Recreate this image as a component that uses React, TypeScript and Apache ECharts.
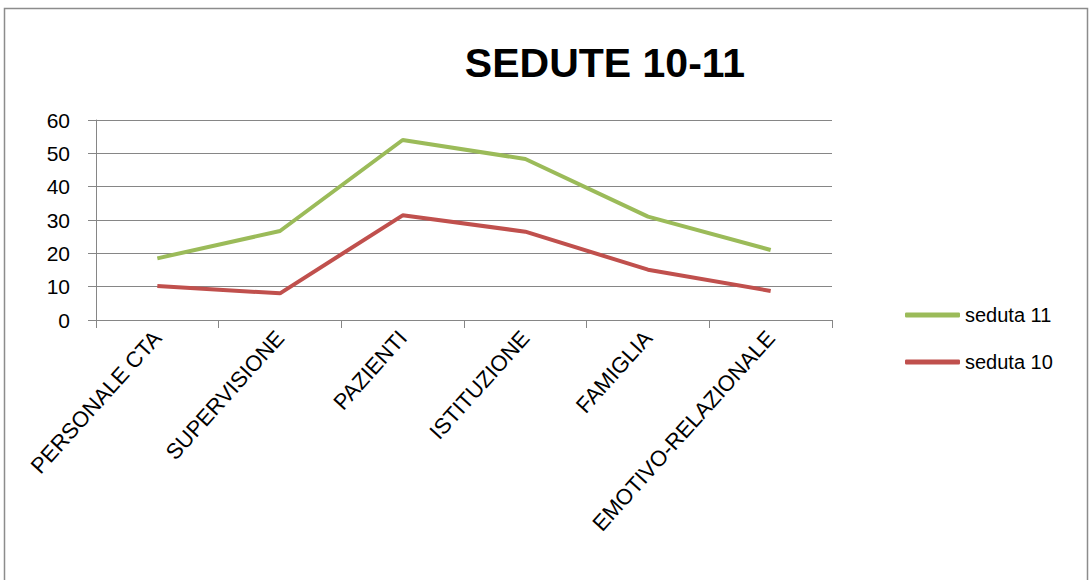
import React, { useEffect, useRef } from "react";
import * as echarts from "echarts";

const categories = ["PERSONALE CTA", "SUPERVISIONE", "PAZIENTI", "ISTITUZIONE", "FAMIGLIA", "EMOTIVO-RELAZIONALE"];
const seduta11 = [18.5, 26.7, 54, 48.3, 31, 21];
const seduta10 = [10.2, 8, 31.4, 26.5, 15.1, 8.7];
const seriesNames = ["seduta 11", "seduta 10"];
const titleText = "SEDUTE 10-11";

export default function App() {
  const ref = useRef<HTMLDivElement>(null);
  useEffect(() => {
    const chart = echarts.init(ref.current!, null, { renderer: "svg" });
    const font = "Liberation Sans, Arial, sans-serif";
    chart.setOption({
      animation: false,
      backgroundColor: "#ffffff",
      title: {
        text: titleText,
        left: 600,
        top: 37,
        textAlign: "center",
        textStyle: { fontFamily: font, fontSize: 41, fontWeight: "bold", color: "#000" },
      },
      graphic: [
        {
          type: "rect",
          shape: { x: 4.5, y: 8.5, width: 1083, height: 600 },
          style: { fill: "none", stroke: "#8c8c8c", lineWidth: 1.5 },
          silent: true,
        },
      ],
      legend: {
        orient: "vertical",
        left: 900,
        top: 300,
        icon: "roundRect",
        itemWidth: 55,
        itemHeight: 5,
        itemGap: 27,
        textStyle: { fontFamily: font, fontSize: 20, color: "#000", padding: [0, 0, 0, 0] },
        data: seriesNames,
      },
      grid: { left: 96, right: 259, top: 120, bottom: 260, containLabel: false },
      xAxis: {
        type: "category",
        data: categories,
        boundaryGap: true,
        axisLine: { lineStyle: { color: "#868686", width: 1 } },
        axisTick: { show: true, length: 8, alignWithLabel: false, lineStyle: { color: "#868686" } },
        axisLabel: {
          rotate: 48,
          margin: 14,
          interval: 0,
          fontFamily: font,
          fontSize: 22,
          color: "#000",
        },
      },
      yAxis: {
        type: "value",
        min: 0,
        max: 60,
        interval: 10,
        axisLine: { show: true, lineStyle: { color: "#868686", width: 1 } },
        axisTick: { show: true, length: 8, lineStyle: { color: "#868686" } },
        axisLabel: { margin: 26, fontFamily: font, fontSize: 21, color: "#000" },
        splitLine: { lineStyle: { color: "#868686", width: 1 } },
      },
      series: [
        {
          name: seriesNames[0],
          type: "line",
          data: seduta11,
          symbol: "none",
          lineStyle: { color: "#9BBB59", width: 4 },
          itemStyle: { color: "#9BBB59" },
        },
        {
          name: seriesNames[1],
          type: "line",
          data: seduta10,
          symbol: "none",
          lineStyle: { color: "#C0504D", width: 4 },
          itemStyle: { color: "#C0504D" },
        },
      ],
    });
    return () => chart.dispose();
  }, []);
  return (
    <div
      ref={ref}
      style={{ position: "fixed", left: 0, top: 0, width: 1091, height: 580 }}
    />
  );
}
